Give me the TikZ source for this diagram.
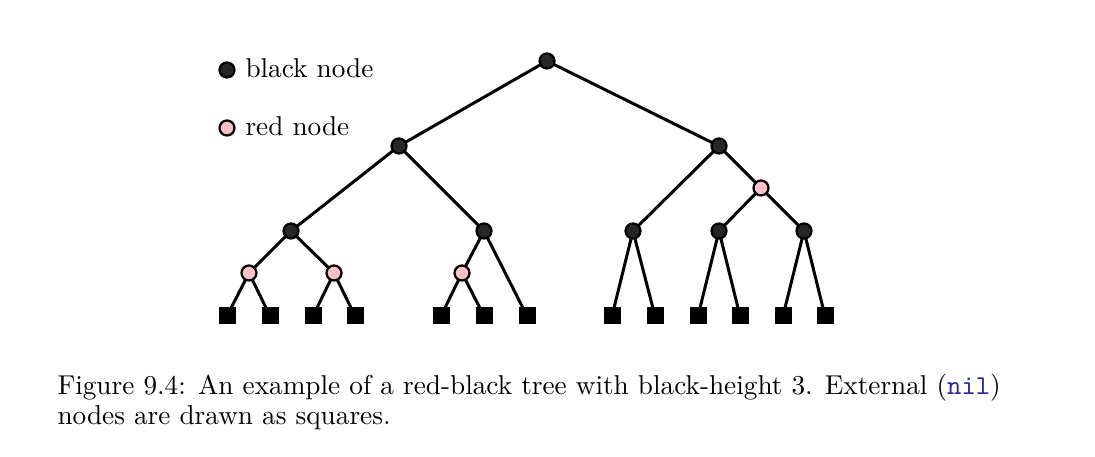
\documentclass[tikz,border=0pt]{standalone}
\usepackage{tikz}
\usepackage{tkz-graph}
\usetikzlibrary{arrows}
\definecolor{rbpink}{RGB}{255,192,203}
\definecolor{nilblue}{RGB}{40,40,150}

\begin{document}
\begin{tikzpicture}[x = 0.4pt, y = -0.4pt]
\tikzstyle{EdgeStyle}=[line width = 1.2pt]
\tikzstyle{TextStyle}=[inner sep = 0pt, font = \fontsize{10.9}{13}\selectfont]

\useasboundingbox (0,0) rectangle (1095,457);

% black nodes
\tikzstyle{VertexStyle}=[shape = circle,
                         minimum size = 6pt,
                         inner sep = 0pt,
                         line width = 0.9pt,
                         fill = black!85,
                         draw]
\Vertex[x = 227, y = 70, NoLabel]{kblack}
\Vertex[x = 547, y = 61, NoLabel]{v0}
\Vertex[x = 399, y = 146, NoLabel]{v1}
\Vertex[x = 719, y = 146, NoLabel]{v2}
\Vertex[x = 291, y = 231, NoLabel]{v4}
\Vertex[x = 484, y = 231, NoLabel]{v5}
\Vertex[x = 633, y = 231, NoLabel]{v6}
\Vertex[x = 719, y = 231, NoLabel]{v7}
\Vertex[x = 804, y = 231, NoLabel]{v8}

% red nodes
\tikzstyle{VertexStyle}=[shape = circle,
                         minimum size = 6pt,
                         inner sep = 0pt,
                         line width = 0.9pt,
                         fill = rbpink,
                         draw]
\Vertex[x = 227, y = 128, NoLabel]{kred}
\Vertex[x = 761, y = 188, NoLabel]{v3}
\Vertex[x = 249, y = 273, NoLabel]{v9}
\Vertex[x = 334, y = 273, NoLabel]{v10}
\Vertex[x = 462, y = 273, NoLabel]{v11}

% external (nil) nodes
\tikzstyle{VertexStyle}=[shape = rectangle,
                         minimum size = 6.8pt,
                         inner sep = 0pt,
                         fill = black]
\Vertex[x = 227, y = 316, NoLabel]{n0}
\Vertex[x = 270, y = 316, NoLabel]{n1}
\Vertex[x = 313, y = 316, NoLabel]{n2}
\Vertex[x = 355, y = 316, NoLabel]{n3}
\Vertex[x = 441, y = 316, NoLabel]{n4}
\Vertex[x = 484, y = 316, NoLabel]{n5}
\Vertex[x = 527, y = 316, NoLabel]{n6}
\Vertex[x = 612, y = 316, NoLabel]{n7}
\Vertex[x = 655, y = 316, NoLabel]{n8}
\Vertex[x = 698, y = 316, NoLabel]{n9}
\Vertex[x = 740, y = 316, NoLabel]{n10}
\Vertex[x = 783, y = 316, NoLabel]{n11}
\Vertex[x = 825, y = 316, NoLabel]{n12}

\Edge(v0)(v1)
\Edge(v0)(v2)
\Edge(v1)(v4)
\Edge(v1)(v5)
\Edge(v2)(v6)
\Edge(v2)(v3)
\Edge(v3)(v7)
\Edge(v3)(v8)
\Edge(v4)(v9)
\Edge(v4)(v10)
\Edge(v5)(v11)
\Edge(v5)(n6)
\Edge(v9)(n0)
\Edge(v9)(n1)
\Edge(v10)(n2)
\Edge(v10)(n3)
\Edge(v11)(n4)
\Edge(v11)(n5)
\Edge(v6)(n7)
\Edge(v6)(n8)
\Edge(v7)(n9)
\Edge(v7)(n10)
\Edge(v8)(n11)
\Edge(v8)(n12)

% legend
\node[TextStyle, anchor = base west] (tblack) at (245,78) {black node};
\node[TextStyle, anchor = base west] (tred) at (245,136) {red node};

% caption
\node[TextStyle, anchor = base west] (cap1) at (57,395)
  {Figure 9.4: An example of a red-black tree with black-height 3. External (\textcolor{nilblue}{\texttt{nil}})};
\node[TextStyle, anchor = base west] (cap2) at (57,425) {nodes are drawn as squares.};
\end{tikzpicture}
\end{document}
